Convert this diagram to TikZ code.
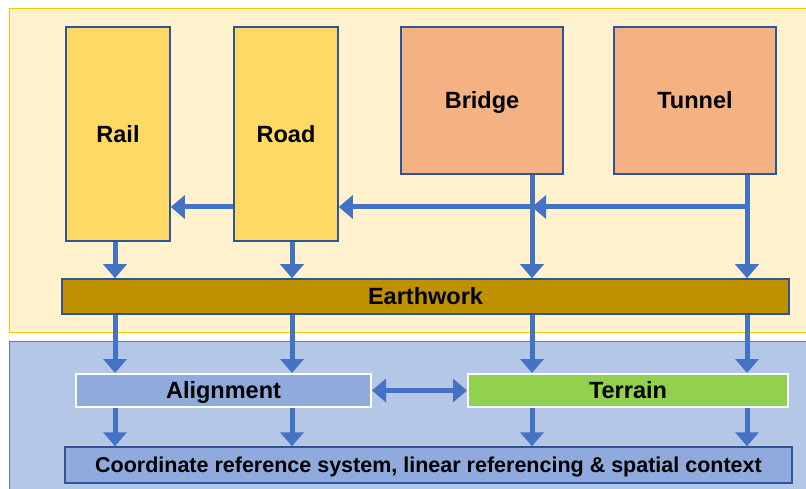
\documentclass[tikz,border=0pt]{standalone}
\usepackage{fontspec}
\setmainfont{Liberation Sans}
\usepackage{xcolor}
\usetikzlibrary{arrows.meta}

\definecolor{topfill}{HTML}{FFF2CC}
\definecolor{topline}{HTML}{FFC000}
\definecolor{botfill}{HTML}{B4C7E7}
\definecolor{botline}{HTML}{5B7DB8}
\definecolor{boxline}{HTML}{2F5597}
\definecolor{railfill}{HTML}{FFD966}
\definecolor{bridgefill}{HTML}{F4B183}
\definecolor{earthfill}{HTML}{BF9000}
\definecolor{alignfill}{HTML}{8FAADC}
\definecolor{terrainfill}{HTML}{92D050}
\definecolor{flowblue}{HTML}{4472C4}

\begin{document}
\begin{tikzpicture}[x=1pt,y=-1pt,
		box/.style={draw=boxline, line width=1.5pt, inner sep=0pt, text height=16.8pt, text depth=0pt, font=\bfseries\fontsize{23.5}{28}\selectfont},
		layer/.style={draw=white, line width=2pt, inner sep=0pt, text height=16.8pt, text depth=0pt, font=\bfseries\fontsize{23.5}{28}\selectfont},
		flow/.style={draw=flowblue, line width=5pt, -{Triangle[length=14pt,width=23pt]}},
		flowboth/.style={draw=flowblue, line width=5pt, {Triangle[length=14pt,width=23pt]}-{Triangle[length=14pt,width=23pt]}}]
	\useasboundingbox (0,0) rectangle (806,489);

	\filldraw[fill=topfill, draw=topline, thin] (9,8) rectangle (812,332);
	\filldraw[fill=botfill, draw=botline, thin] (9,341) rectangle (812,495);

	\node[box, fill=railfill, minimum width=104pt, minimum height=214pt] (rail) at (118,134) {Rail};
	\node[box, fill=railfill, minimum width=104pt, minimum height=214pt] (road) at (286,134) {Road};
	\node[box, fill=bridgefill, minimum width=162pt, minimum height=147pt] (bridge) at (482,100.5) {Bridge};
	\node[box, fill=bridgefill, minimum width=162pt, minimum height=147pt] (tunnel) at (695,100.5) {Tunnel};

	\node[box, fill=earthfill, minimum width=727pt, minimum height=35pt] (earth) at (425.5,296.5) {Earthwork};

	\node[layer, fill=alignfill, minimum width=295pt, minimum height=33pt] (align) at (223.5,390.5) {Alignment};
	\node[layer, fill=terrainfill, minimum width=320pt, minimum height=33pt] (terrain) at (628,390.5) {Terrain};

	\node[box, fill=alignfill, minimum width=727pt, minimum height=36pt, text height=15.4pt, font=\bfseries\fontsize{21.5}{25}\selectfont] (crs) at (428.5,465) {Coordinate reference system, linear referencing \& spatial context};

	\coordinate (c1) at (115,0);
	\coordinate (c2) at (292,0);
	\coordinate (c3) at (532,0);
	\coordinate (c4) at (747,0);
	\coordinate (hy) at (0,207);

	\draw[flow] (road.west |- hy) -- (rail.east |- hy);
	\draw[flow] (c3 |- hy) -- (road.east |- hy);
	\draw[flow] (c4 |- hy) -- (c3 |- hy);

	\draw[flow] (rail.south -| c1) -- (earth.north -| c1);
	\draw[flow] (road.south -| c2) -- (earth.north -| c2);
	\draw[flow] (bridge.south -| c3) -- (earth.north -| c3);
	\draw[flow] (tunnel.south -| c4) -- (earth.north -| c4);

	\draw[flow] (earth.south -| c1) -- (align.north -| c1);
	\draw[flow] (earth.south -| c2) -- (align.north -| c2);
	\draw[flow] (earth.south -| c3) -- (terrain.north -| c3);
	\draw[flow] (earth.south -| c4) -- (terrain.north -| c4);

	\draw[flowboth] (align.east) -- (terrain.west);

	\draw[flow] (align.south -| c1) -- (crs.north -| c1);
	\draw[flow] (align.south -| c2) -- (crs.north -| c2);
	\draw[flow] (terrain.south -| c3) -- (crs.north -| c3);
	\draw[flow] (terrain.south -| c4) -- (crs.north -| c4);
\end{tikzpicture}
\end{document}
